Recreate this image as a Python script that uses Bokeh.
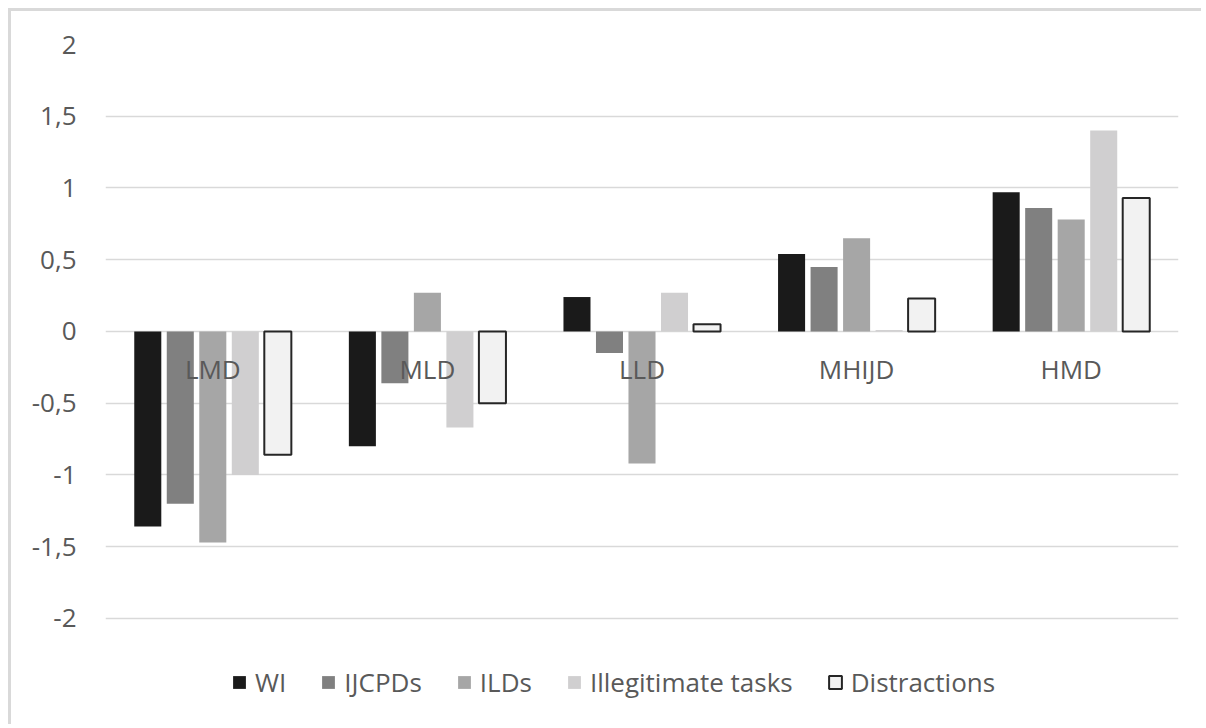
from bokeh.plotting import figure
from bokeh.models import Legend, LegendItem, FixedTicker
from bokeh.core.properties import value
from bokeh.transform import dodge
from bokeh.embed import file_html
from bokeh.resources import INLINE

categories = ["LMD", "MLD", "LLD", "MHIJD", "HMD"]
series_names = ["WI", "IJCPDs", "ILDs", "Illegitimate tasks", "Distractions"]
wi = [-1.36, -0.80, 0.24, 0.54, 0.97]
ijcpds = [-1.20, -0.36, -0.15, 0.45, 0.86]
ilds = [-1.47, 0.27, -0.92, 0.65, 0.78]
illegitimate = [-1.00, -0.67, 0.27, 0.01, 1.40]
distractions = [-0.86, -0.50, 0.05, 0.23, 0.93]
y_ticks = [-2, -1.5, -1, -0.5, 0, 0.5, 1, 1.5, 2]
y_tick_labels = ["-2", "-1,5", "-1", "-0,5", "0", "0,5", "1", "1,5", "2"]

series = [wi, ijcpds, ilds, illegitimate, distractions]
fills = ["#1a1a1a", "#808080", "#a6a6a6", "#d0cfd0", "#f2f2f2"]
lines = [None, None, None, None, "#262626"]
offsets = [-0.303, -0.1515, 0.0, 0.1515, 0.303]

FONT = "Open Sans"
TXT = "#595959"
GRID = "#d9d9d9"

# frame extends below the -2 gridline to hold the legend
p = figure(x_range=categories, y_range=(-2.76, 2), width=1193, height=716,
           output_backend="svg", toolbar_location=None,
           min_border_left=94, min_border_right=26, min_border_top=33,
           min_border_bottom=0)
p.styles = {"border-left": "3px solid #d9d9d9", "border-top": "3px solid #d9d9d9",
            "margin-left": "8px", "margin-top": "8px"}
p.outline_line_color = None
p.background_fill_color = "white"

data = {"cat": categories, "zero": [0] * len(categories)}
for name, vals in zip(series_names, series):
    data[name] = vals

items = []
for name, fc, lc, off in zip(series_names, fills, lines, offsets):
    r = p.vbar(x=dodge("cat", off, range=p.x_range), top=name, bottom=0, width=0.126,
               source=data, fill_color=fc,
               line_color=lc if lc else None, line_width=2)
    items.append(LegendItem(label=name, renderers=[r]))

p.xgrid.grid_line_color = None
p.ygrid.grid_line_color = GRID
p.ygrid.grid_line_width = 1.5
p.ygrid.ticker = FixedTicker(ticks=y_ticks)

p.yaxis.ticker = FixedTicker(ticks=y_ticks)
p.yaxis.major_label_overrides = {t: l for t, l in zip(y_ticks, y_tick_labels)}
p.yaxis.axis_line_color = None
p.yaxis.major_tick_line_color = None
p.yaxis.minor_tick_line_color = None
p.yaxis.major_label_standoff = 23
p.yaxis.major_label_text_font = FONT
p.yaxis.major_label_text_font_size = "26px"
p.yaxis.major_label_text_color = TXT

p.xaxis.visible = False
p.text(x="cat", y="zero", text="cat", source=data, text_font=value(FONT),
       text_font_size="26px", text_color=TXT, text_align="center",
       text_baseline="middle", y_offset=38)

legend = Legend(items=items, orientation="horizontal", location=(126, 27),
                label_text_font=FONT, label_text_font_size="26px",
                label_text_color=TXT, glyph_width=16, glyph_height=16,
                label_standoff=8, spacing=34, padding=0, margin=0,
                border_line_color=None, background_fill_alpha=0)
p.add_layout(legend, "center")

open("out.html", "w").write(file_html(p, INLINE))
